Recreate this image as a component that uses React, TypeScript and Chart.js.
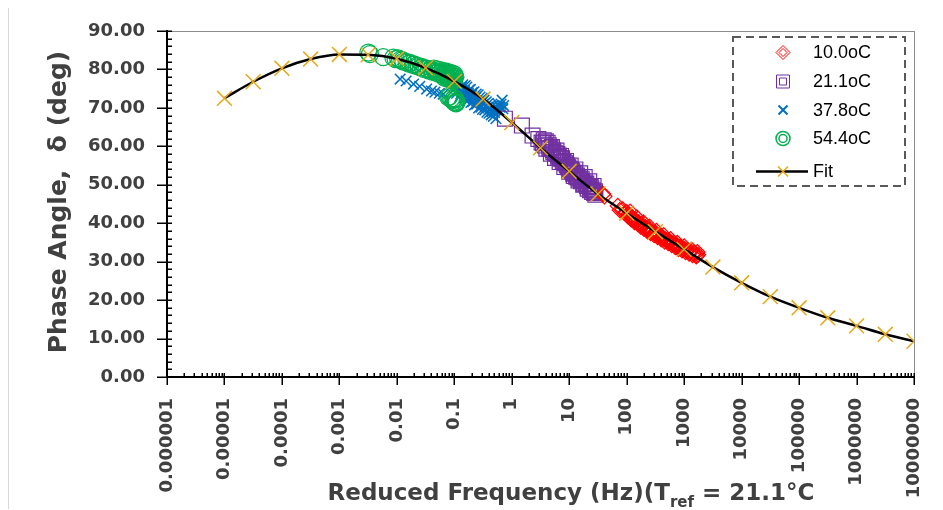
import React, { useEffect, useRef } from 'react';
import { Chart, registerables } from 'chart.js';

Chart.register(...registerables);

// ---- axis ticks ----
const xTickValues = [1e-6, 1e-5, 1e-4, 1e-3, 1e-2, 1e-1, 1, 10, 100, 1000, 1e4, 1e5, 1e6, 1e7];
const xTickLabels = ['0.000001', '0.00001', '0.0001', '0.001', '0.01', '0.1', '1', '10', '100', '1000', '10000', '100000', '1000000', '10000000'];
const yMin = 0;
const yMax = 90;
const yMajorStep = 10;
const yMinorStep = 2;

// ---- series ----
const seriesNames = ['10.0oC', '21.1oC', '37.8oC', '54.4oC', 'Fit'];

const red10Freq = [39, 41, 70, 76, 85, 92, 100, 105, 112, 120, 128, 136, 145, 155, 165, 175, 188, 200, 215, 230, 245, 262, 280, 300, 320, 345, 370, 400, 430, 460, 495, 530, 570, 610, 655, 700, 750, 800, 860, 920, 990, 1060, 1140, 1220, 1310, 1400, 1500, 1620, 1750,
  108, 124, 140, 160, 182, 208, 238, 270, 310, 355, 410, 470, 540, 620, 710, 820, 940, 1080, 1250, 1450, 1680, 115, 150, 195, 250, 330, 440, 580, 760, 1000, 1350, 1700];
const red10Phase = [47.6, 47.0, 44.5, 43.4, 43.6, 42.6, 42.9, 41.8, 41.9, 41.0, 41.2, 40.3, 40.7, 39.8, 40.0, 39.1, 39.6, 38.5, 38.9, 37.9, 38.3, 37.4, 37.9, 36.9, 37.3, 36.4, 36.9, 35.8, 36.2, 35.2, 35.7, 34.8, 35.2, 34.3, 34.7, 33.8, 34.3, 33.3, 33.8, 32.9, 33.4, 32.5, 33.0, 32.1, 32.7, 31.7, 32.3, 31.4, 31.8,
  42.4, 41.6, 40.9, 40.3, 39.6, 39.0, 38.4, 37.8, 37.4, 36.9, 36.3, 35.8, 35.3, 34.8, 34.3, 33.8, 33.3, 32.9, 32.4, 32.0, 31.6, 43.0, 41.5, 40.2, 39.1, 38.0, 36.9, 35.9, 34.9, 34.0, 33.1, 32.5];

const purple21Freq = [0.76, 1.5, 2.3, 2.9, 3.3, 3.6, 3.8, 4.0, 4.2, 4.5, 4.8, 5.0, 5.3, 5.65, 6.0, 6.4, 6.8, 7.2, 7.7, 8.2, 8.8, 9.4, 10.0, 10.6, 11.3, 12.0, 12.8, 13.6, 14.5, 15.5, 16.5, 17.5, 18.6, 19.8, 21.0, 22.3, 23.7, 25.0, 26.5, 28.0, 28.5,
  3.5, 3.9, 4.4, 4.7, 5.2, 5.8, 6.2, 6.6, 7.0, 7.5, 8.0, 8.5, 9.1, 9.7, 10.3, 11.0, 11.7, 12.4, 13.2, 14.0, 15.0, 16.0, 17.0, 18.0, 19.2, 20.4, 21.6, 23.0, 24.3, 25.8, 27.2];
const purple21Phase = [67.2, 65.4, 62.8, 61.9, 61.0, 61.6, 60.2, 59.4, 60.9, 59.4, 58.1, 59.8, 58.5, 57.0, 58.9, 57.3, 55.9, 57.5, 56.0, 54.6, 56.2, 54.7, 53.4, 55.0, 53.5, 52.3, 54.0, 52.4, 51.1, 53.0, 51.4, 50.0, 52.0, 50.3, 49.0, 50.9, 49.4, 48.1, 49.7, 48.3, 47.4,
  60.8, 61.3, 60.3, 59.6, 59.0, 58.2, 58.0, 57.6, 56.8, 56.9, 55.9, 55.6, 55.1, 54.5, 54.1, 53.8, 52.9, 53.1, 52.1, 51.9, 51.6, 50.9, 51.0, 50.3, 50.2, 49.6, 49.7, 48.6, 49.0, 48.5, 47.9];

const blue37Freq = [0.0114, 0.0145, 0.0195, 0.025, 0.033, 0.04, 0.046, 0.055, 0.064, 0.02, 0.03, 0.045, 0.06, 0.075, 0.09, 0.1, 0.105, 0.11, 0.12, 0.125, 0.13, 0.14, 0.15, 0.155, 0.165, 0.175, 0.18, 0.19, 0.2, 0.21, 0.22, 0.235, 0.245, 0.26, 0.275, 0.29, 0.305, 0.32, 0.34, 0.36, 0.38, 0.4, 0.42, 0.45, 0.48, 0.5, 0.55, 0.6, 0.65, 0.7,
  0.11, 0.115, 0.125, 0.135, 0.14, 0.145, 0.155, 0.16, 0.17, 0.18, 0.185, 0.195, 0.205, 0.215, 0.225, 0.24, 0.25, 0.265, 0.28, 0.295, 0.31, 0.33, 0.35, 0.37, 0.39, 0.41, 0.44, 0.46, 0.5, 0.53, 0.58, 0.62, 0.68, 0.72];
const blue37Phase = [77.5, 77.0, 76.2, 75.6, 74.9, 74.4, 74.1, 73.8, 73.6, 80.8, 79.9, 79.0, 78.2, 77.6, 77.0, 77.0, 75.2, 73.8, 76.6, 75.0, 73.6, 76.0, 74.5, 72.9, 75.4, 73.8, 72.3, 74.8, 73.2, 71.6, 74.2, 72.6, 71.0, 73.4, 71.8, 70.2, 72.5, 71.0, 69.5, 71.6, 70.1, 68.6, 70.6, 69.0, 67.8, 68.8, 70.2, 69.4, 71.0, 69.8,
  76.5, 74.6, 73.0, 75.5, 74.2, 72.5, 75.8, 73.4, 71.8, 74.6, 73.0, 71.4, 74.0, 72.4, 70.8, 73.6, 71.6, 70.0, 72.8, 71.2, 69.6, 72.0, 70.4, 68.9, 71.2, 69.6, 68.2, 70.4, 69.6, 67.2, 71.0, 70.2, 72.0, 70.6];

const green54Freq = [0.0032, 0.0034, 0.0058, 0.0087, 0.0095, 0.0105, 0.0114, 0.0125, 0.013, 0.0148, 0.016, 0.017, 0.019, 0.02, 0.022, 0.024, 0.026, 0.028, 0.03, 0.033, 0.036, 0.039, 0.042, 0.045, 0.048, 0.051, 0.055, 0.058, 0.062, 0.065, 0.069, 0.072, 0.076, 0.08, 0.084, 0.088, 0.092, 0.096, 0.1, 0.104, 0.078, 0.082, 0.088, 0.093, 0.098, 0.103, 0.107, 0.11,
  0.044, 0.05, 0.056, 0.063, 0.07, 0.077, 0.085, 0.093, 0.1, 0.067, 0.074, 0.083, 0.09, 0.098, 0.1, 0.105];
const green54Phase = [84.4, 84.0, 83.2, 83.1, 82.7, 82.9, 82.5, 82.4, 82.0, 81.9, 81.5, 81.7, 81.2, 81.3, 80.9, 80.9, 80.5, 80.6, 80.1, 80.2, 79.7, 79.9, 79.4, 79.6, 79.1, 79.4, 78.8, 79.2, 78.6, 79.0, 78.4, 78.9, 78.2, 78.7, 78.0, 78.5, 77.8, 78.3, 77.6, 78.1, 72.8, 72.9, 72.4, 72.0, 71.6, 71.4, 71.2, 71.5,
  80.2, 80.0, 79.8, 79.6, 79.5, 79.3, 79.1, 78.9, 78.7, 77.9, 77.7, 77.4, 77.2, 77.0, 72.5, 72.2];

const fitFreq = [1e-5, 3.162e-5, 1e-4, 3.162e-4, 1e-3, 3.162e-3, 1e-2, 3.162e-2, 0.1, 0.3162, 1, 3.162, 10, 31.62, 100, 316.2, 1000, 3162, 1e4, 31620, 1e5, 316200, 1e6, 3162000, 1e7];
const fitPhase = [72.5, 76.8, 80.3, 82.7, 83.9, 83.8, 82.8, 80.4, 76.9, 72.3, 66.2, 59.6, 53.5, 47.6, 42.6, 37.8, 33.2, 28.6, 24.5, 20.9, 18.0, 15.4, 13.3, 11.1, 9.3];

const colors = {
  red: '#FF0000',
  purple: '#7030A0',
  blue: '#0070C0',
  green: '#00B050',
  gold: '#E6A817',
  text: '#404040',
};

const FONT = "'DejaVu Sans', sans-serif";

const toPoints = (xs: number[], ys: number[]) => xs.map((x, i) => ({ x, y: ys[i] }));

const decorPlugin = {
  id: 'decor',
  beforeDatasetsDraw(chart: any) {
    const { ctx, chartArea, scales } = chart;
    const { left, right, top, bottom } = chartArea;
    const xs = scales.x;
    const ys = scales.y;
    ctx.save();
    ctx.strokeStyle = '#8c8c8c';
    ctx.lineWidth = 1;
    ctx.beginPath();
    ctx.moveTo(left, top + 0.5);
    ctx.lineTo(right, top + 0.5);
    ctx.moveTo(right + 0.5, top);
    ctx.lineTo(right + 0.5, bottom);
    ctx.stroke();

    ctx.strokeStyle = '#000';
    ctx.lineWidth = 1.5;
    ctx.beginPath();
    xTickValues.forEach((v) => {
      const px = Math.round(xs.getPixelForValue(v)) + 0.25;
      ctx.moveTo(px, bottom - 4);
      ctx.lineTo(px, bottom + 8);
      if (v < xTickValues[xTickValues.length - 1]) {
        for (let m = 2; m <= 9; m++) {
          const mp = Math.round(xs.getPixelForValue(v * m)) + 0.25;
          ctx.moveTo(mp, bottom - 4);
          ctx.lineTo(mp, bottom);
        }
      }
    });
    for (let v = yMin; v <= yMax; v += yMinorStep) {
      const py = Math.round(ys.getPixelForValue(v)) + 0.25;
      ctx.moveTo(left, py);
      ctx.lineTo(left + 5, py);
    }
    for (let v = yMin; v <= yMax; v += yMajorStep) {
      const py = Math.round(ys.getPixelForValue(v)) + 0.25;
      ctx.moveTo(left - 10, py);
      ctx.lineTo(left + 5, py);
    }
    ctx.stroke();
    ctx.restore();
  },
  afterDraw(chart: any) {
    const { ctx, chartArea } = chart;
    ctx.save();
    ctx.fillStyle = colors.text;
    ctx.font = `bold 25px ${FONT}`;
    ctx.textAlign = 'center';
    ctx.textBaseline = 'middle';
    ctx.translate(50, (chartArea.top + chartArea.bottom) / 2 - 2);
    ctx.rotate(-Math.PI / 2);
    ctx.fillText('Phase Angle,  \u03b4 (deg)', 0, 0);
    ctx.restore();

    ctx.save();
    ctx.fillStyle = colors.text;
    ctx.textBaseline = 'alphabetic';
    ctx.textAlign = 'left';
    const part1 = 'Reduced Frequency (Hz)(T';
    const sub = 'ref';
    const part2 = ' = 21.1\u00b0C';
    const mainFont = `bold 23px ${FONT}`;
    const subFont = `bold 15px ${FONT}`;
    ctx.font = mainFont;
    const w1 = ctx.measureText(part1).width;
    const w3 = ctx.measureText(part2).width;
    ctx.font = subFont;
    const w2 = ctx.measureText(sub).width;
    const total = w1 + w2 + w3;
    const cx = 562;
    const baseY = 492;
    const x0 = cx - total / 2;
    ctx.font = mainFont;
    ctx.fillText(part1, x0, baseY);
    ctx.font = subFont;
    ctx.fillText(sub, x0 + w1, baseY + 7);
    ctx.font = mainFont;
    ctx.fillText(part2, x0 + w1 + w2, baseY);
    ctx.restore();

    // legend
    ctx.save();
    const bx = 724, by = 29, bw = 172, bh = 149;
    ctx.strokeStyle = '#595959';
    ctx.lineWidth = 2;
    ctx.setLineDash([8, 5]);
    ctx.strokeRect(bx, by, bw, bh);
    ctx.setLineDash([]);
    const mx = 774;
    const tx = 804;
    const rows = [44.5, 73.5, 102, 130.5, 163.5];
    ctx.font = `18px 'Liberation Sans', Arial, sans-serif`;
    ctx.fillStyle = '#000';
    ctx.textBaseline = 'middle';
    ctx.textAlign = 'left';
    seriesNames.forEach((name, i) => {
      const cy = rows[i];
      ctx.fillText(name, tx, cy + 1);
      ctx.beginPath();
      ctx.lineWidth = 1;
      if (i === 0) {
        ctx.strokeStyle = colors.red;
        [7, 4].forEach((r) => {
          ctx.moveTo(mx - r, cy); ctx.lineTo(mx, cy - r); ctx.lineTo(mx + r, cy); ctx.lineTo(mx, cy + r); ctx.closePath();
        });
        ctx.stroke();
      } else if (i === 1) {
        ctx.strokeStyle = colors.purple;
        ctx.rect(mx - 6.5, cy - 6.5, 13, 13);
        ctx.rect(mx - 3.5, cy - 3.5, 7, 7);
        ctx.stroke();
      } else if (i === 2) {
        ctx.strokeStyle = colors.blue;
        ctx.lineWidth = 2;
        ctx.moveTo(mx - 4.5, cy - 4.5); ctx.lineTo(mx + 4.5, cy + 4.5);
        ctx.moveTo(mx + 4.5, cy - 4.5); ctx.lineTo(mx - 4.5, cy + 4.5);
        ctx.stroke();
      } else if (i === 3) {
        ctx.strokeStyle = colors.green;
        ctx.lineWidth = 1.5;
        ctx.arc(mx, cy, 7, 0, Math.PI * 2);
        ctx.moveTo(mx + 4, cy);
        ctx.arc(mx, cy, 4, 0, Math.PI * 2);
        ctx.stroke();
      } else {
        ctx.strokeStyle = '#000';
        ctx.lineWidth = 2.5;
        ctx.moveTo(747, cy); ctx.lineTo(799, cy);
        ctx.stroke();
        ctx.beginPath();
        ctx.strokeStyle = colors.gold;
        ctx.lineWidth = 1.5;
        ctx.moveTo(mx - 5, cy - 5); ctx.lineTo(mx + 5, cy + 5);
        ctx.moveTo(mx + 5, cy - 5); ctx.lineTo(mx - 5, cy + 5);
        ctx.stroke();
      }
    });
    ctx.restore();
  },
};

export default function App() {
  const canvasRef = useRef<HTMLCanvasElement | null>(null);

  useEffect(() => {
    if (!canvasRef.current) return;
    const chart = new Chart(canvasRef.current, {
      type: 'scatter',
      data: {
        datasets: [
          {
            label: seriesNames[0],
            data: toPoints(red10Freq, red10Phase),
            pointStyle: 'rectRot',
            pointRadius: 7.5,
            borderColor: colors.red,
            backgroundColor: 'rgba(0,0,0,0)',
            borderWidth: 1.2,
            order: 1,
          },
          {
            label: seriesNames[1],
            data: toPoints(purple21Freq, purple21Phase),
            pointStyle: 'rect',
            pointRadius: 10.5,
            borderColor: colors.purple,
            backgroundColor: 'rgba(0,0,0,0)',
            borderWidth: 1.2,
            order: 3,
          },
          {
            label: seriesNames[2],
            data: toPoints(blue37Freq, blue37Phase),
            pointStyle: 'crossRot',
            pointRadius: 7.5,
            borderColor: colors.blue,
            backgroundColor: colors.blue,
            borderWidth: 1.5,
            order: 4,
          },
          {
            label: seriesNames[3],
            data: toPoints(green54Freq, green54Phase),
            pointStyle: 'circle',
            pointRadius: 8.5,
            borderColor: colors.green,
            backgroundColor: 'rgba(0,0,0,0)',
            borderWidth: 1.2,
            order: 2,
          },
          {
            label: seriesNames[4],
            data: toPoints(fitFreq, fitPhase),
            showLine: true,
            cubicInterpolationMode: 'monotone',
            borderColor: '#000',
            borderWidth: 2.5,
            pointStyle: 'crossRot',
            pointRadius: 10.5,
            pointBorderColor: colors.gold,
            pointBackgroundColor: colors.gold,
            pointBorderWidth: 1.5,
            order: 0,
          } as any,
        ],
      },
      options: {
        animation: false,
        responsive: true,
        maintainAspectRatio: false,
        events: [],
        layout: { padding: { top: 23, right: 28, left: 0, bottom: 0 } },
        plugins: {
          legend: { display: false },
          tooltip: { enabled: false },
        },
        scales: {
          x: {
            type: 'logarithmic',
            min: 1e-6,
            max: 1e7,
            afterBuildTicks: (axis: any) => {
              axis.ticks = xTickValues.map((v) => ({ value: v }));
            },
            afterFit: (s: any) => {
              s.height = 132;
              s.paddingLeft = 0;
              s.paddingRight = 0;
              s.paddingTop = 0;
              s.paddingBottom = 0;
            },
            grid: { display: false, drawTicks: false },
            border: { display: true, color: '#000', width: 2 },
            ticks: {
              autoSkip: false,
              minRotation: 90,
              maxRotation: 90,
              padding: 21,
              color: colors.text,
              font: { family: FONT, weight: 'bold', size: 18 },
              callback: (value: any) => {
                const idx = xTickValues.findIndex((v) => Math.abs(Math.log10(v) - Math.log10(Number(value))) < 1e-6);
                return idx >= 0 ? xTickLabels[idx] : '';
              },
            },
          },
          y: {
            type: 'linear',
            min: yMin,
            max: yMax,
            afterFit: (s: any) => {
              s.width = 158;
              s.paddingLeft = 0;
              s.paddingRight = 0;
              s.paddingTop = 0;
              s.paddingBottom = 0;
            },
            grid: { display: false, drawTicks: false },
            border: { display: true, color: '#000', width: 2 },
            ticks: {
              stepSize: yMajorStep,
              padding: 22,
              color: colors.text,
              font: { family: FONT, weight: 'bold', size: 18 },
              callback: (value: any) => Number(value).toFixed(2),
            },
          },
        },
      },
      plugins: [decorPlugin],
    } as any);
    return () => chart.destroy();
  }, []);

  return (
    <div
      style={{
        position: 'relative',
        width: 933,
        height: 501,
        marginTop: -1,
        borderLeft: '1px solid #d9d9d9',
        borderTop: '1px solid #d9d9d9',
      }}
    >
      <canvas ref={canvasRef} />
    </div>
  );
}
